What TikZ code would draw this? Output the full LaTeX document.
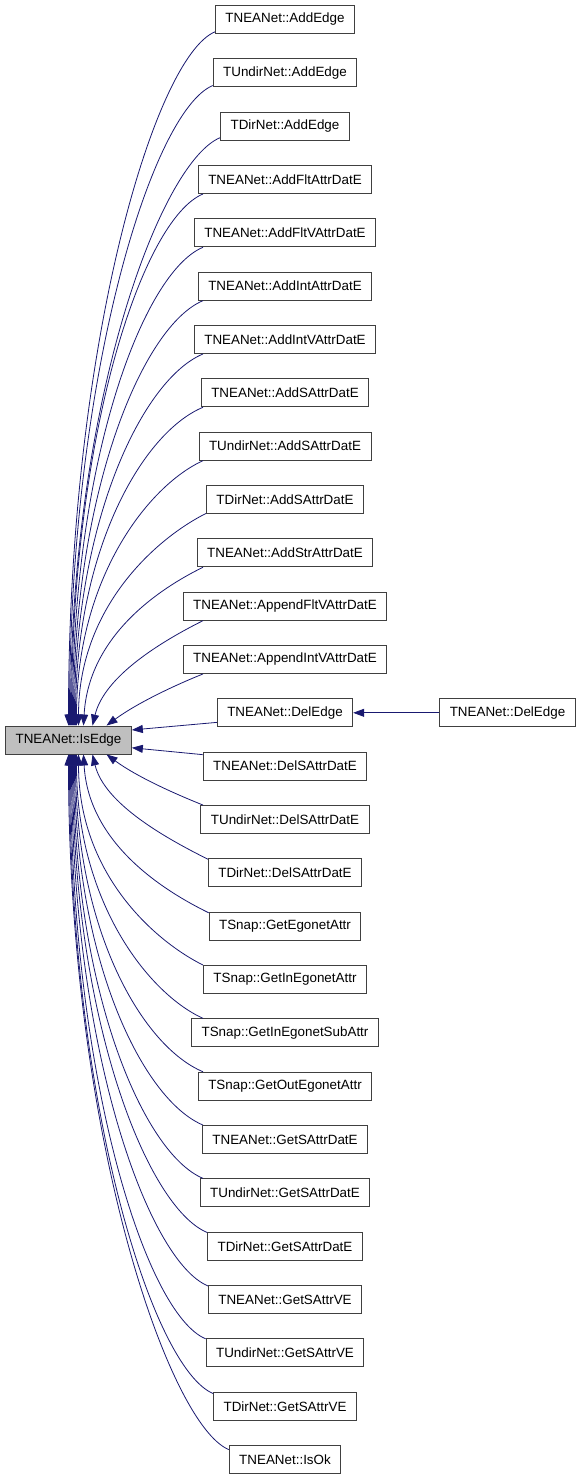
\documentclass[tikz,border=0pt]{standalone}
\usepackage{fontspec}
\setmainfont{Liberation Sans}
\usetikzlibrary{arrows.meta}
\definecolor{edgeblue}{HTML}{191970}
\definecolor{boxgray}{HTML}{404040}
\definecolor{hilite}{HTML}{BFBFBF}

\begin{document}
\begin{tikzpicture}[x=1pt, y=1pt, >={Triangle[length=11pt,width=8pt]}]
  \tikzstyle{fn} = [draw=boxgray, fill=white, line width=0.9pt, minimum height=28pt, inner xsep=10pt, inner ysep=2pt, font=\fontsize{13.4}{16}\selectfont]
  \tikzstyle{call} = [<-, draw=edgeblue, line width=0.8pt]
  \useasboundingbox (0,0) rectangle (581,-1480);

  \node[fn, fill=hilite] (isedge) at (68.5,-740) {TNEANet::IsEdge};

  % callers
  \node[fn] (neAddEdge)     at (285,-19.5)  {TNEANet::AddEdge};
  \node[fn] (unAddEdge)     at (285,-72.8)  {TUndirNet::AddEdge};
  \node[fn] (diAddEdge)     at (285,-126.2) {TDirNet::AddEdge};
  \node[fn] (neAddFltAttr)  at (285,-179.5) {TNEANet::AddFltAttrDatE};
  \node[fn] (neAddFltVAttr) at (285,-232.8) {TNEANet::AddFltVAttrDatE};
  \node[fn] (neAddIntAttr)  at (285,-286.2) {TNEANet::AddIntAttrDatE};
  \node[fn] (neAddIntVAttr) at (285,-339.5) {TNEANet::AddIntVAttrDatE};
  \node[fn] (neAddSAttr)    at (285,-392.8) {TNEANet::AddSAttrDatE};
  \node[fn] (unAddSAttr)    at (285,-446.2) {TUndirNet::AddSAttrDatE};
  \node[fn] (diAddSAttr)    at (285,-499.5) {TDirNet::AddSAttrDatE};
  \node[fn] (neAddStrAttr)  at (285,-552.8) {TNEANet::AddStrAttrDatE};
  \node[fn] (neAppFltV)     at (285,-606.2) {TNEANet::AppendFltVAttrDatE};
  \node[fn] (neAppIntV)     at (285,-659.5) {TNEANet::AppendIntVAttrDatE};
  \node[fn] (neDelEdge)     at (285,-712.8) {TNEANet::DelEdge};
  \node[fn] (neDelSAttr)    at (285,-766.2) {TNEANet::DelSAttrDatE};
  \node[fn] (unDelSAttr)    at (285,-819.5) {TUndirNet::DelSAttrDatE};
  \node[fn] (diDelSAttr)    at (285,-872.8) {TDirNet::DelSAttrDatE};
  \node[fn] (snEgo)         at (285,-926.2) {TSnap::GetEgonetAttr};
  \node[fn] (snInEgo)       at (285,-979.5) {TSnap::GetInEgonetAttr};
  \node[fn] (snInEgoSub)    at (285,-1032.8) {TSnap::GetInEgonetSubAttr};
  \node[fn] (snOutEgo)      at (285,-1086.2) {TSnap::GetOutEgonetAttr};
  \node[fn] (neGetSAttr)    at (285,-1139.5) {TNEANet::GetSAttrDatE};
  \node[fn] (unGetSAttr)    at (285,-1192.8) {TUndirNet::GetSAttrDatE};
  \node[fn] (diGetSAttr)    at (285,-1246.2) {TDirNet::GetSAttrDatE};
  \node[fn] (neGetSAttrV)   at (285,-1299.5) {TNEANet::GetSAttrVE};
  \node[fn] (unGetSAttrV)   at (285,-1352.8) {TUndirNet::GetSAttrVE};
  \node[fn] (diGetSAttrV)   at (285,-1406.2) {TDirNet::GetSAttrVE};
  \node[fn] (neIsOk)        at (285,-1459.5) {TNEANet::IsOk};

  \node[fn] (neDelEdgeB)    at (507.5,-712.8) {TNEANet::DelEdge};

  % upper fan
  \foreach \n/\e/\ax/\ay/\bx/\by in {neAddEdge/0/0/382/-60/-25, unAddEdge/1/0/353/-60/-25,
      diAddEdge/2/0/323/-60/-25, neAddFltAttr/3/0/294/-60/-25, neAddFltVAttr/4/0/265/-60/-25,
      neAddIntAttr/5/0/235/-60/-25, neAddIntVAttr/6/0/206/-60/-25, neAddSAttr/7/0/177/-60/-25,
      unAddSAttr/8/0/147/-55/-25, diAddSAttr/10/0/118/-50/-25, neAddStrAttr/15/5/89/-45/-22,
      neAppFltV/24/12/50/-40/-20, neAppIntV/38/30/22/-30/-12}
    \draw[call] ([xshift=\e pt]isedge.north) .. controls +(\ax,\ay) and +(\bx,\by) .. (\n.190);

  % lower fan
  \foreach \n/\e/\ax/\ay/\bx/\by in {unDelSAttr/38/30/-22/-30/12, diDelSAttr/24/12/-50/-40/20,
      snEgo/15/5/-89/-45/22, snInEgo/10/0/-118/-50/25, snInEgoSub/8/0/-147/-55/25,
      snOutEgo/7/0/-177/-60/25, neGetSAttr/6/0/-206/-60/25, unGetSAttr/5/0/-235/-60/25,
      diGetSAttr/4/0/-265/-60/25, neGetSAttrV/3/0/-294/-60/25, unGetSAttrV/2/0/-323/-60/25,
      diGetSAttrV/1/0/-353/-60/25, neIsOk/0/0/-382/-60/25}
    \draw[call] ([xshift=\e pt]isedge.south) .. controls +(\ax,\ay) and +(\bx,\by) .. (\n.170);

  \draw[call] (isedge.9) -- (neDelEdge.188);
  \draw[call] (isedge.-7) -- (neDelSAttr.172);
  \draw[call] (neDelEdge) -- (neDelEdgeB);
\end{tikzpicture}
\end{document}
